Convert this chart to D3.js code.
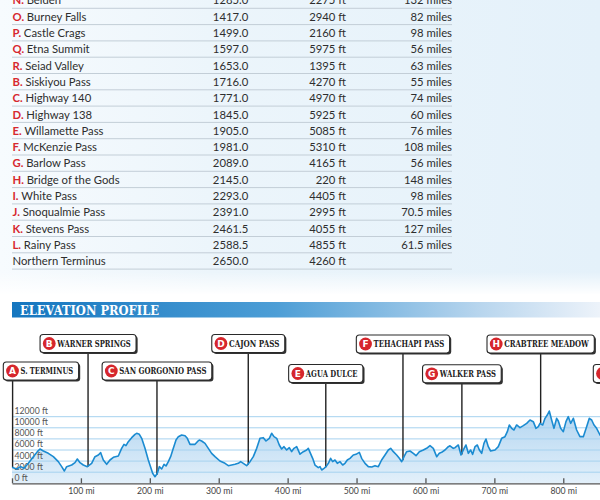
<!DOCTYPE html>
<html><head><meta charset="utf-8">
<script src="https://cdn.jsdelivr.net/npm/d3@7/dist/d3.min.js"></script>
<style>html,body{margin:0;padding:0;background:#fff;} svg{display:block;}</style>
</head><body>
<svg id="chart" width="600" height="500"></svg>
<script>
// ---------- DATA ----------
const tableLetters = ["N","O","P","Q","R","B","C","D","E","F","G","H","I","J","K","L",""];
const tableNames = ["Belden","Burney Falls","Castle Crags","Etna Summit","Seiad Valley","Siskiyou Pass","Highway 140","Highway 138","Willamette Pass","McKenzie Pass","Barlow Pass","Bridge of the Gods","White Pass","Snoqualmie Pass","Stevens Pass","Rainy Pass","Northern Terminus"];
const tableMileage = [1285.0,1417.0,1499.0,1597.0,1653.0,1716.0,1771.0,1845.0,1905.0,1981.0,2089.0,2145.0,2293.0,2391.0,2461.5,2588.5,2650.0];
const tableElevation = [2275,2940,2160,5975,1395,4270,4970,5925,5085,5310,4165,220,4405,2995,4055,4855,4260];
const tableDistance = ["132","82","98","56","63","55","74","60","76","108","56","148","98","70.5","127","61.5",""];

const profileMiles = [0,6.8,12.6,17.4,23.7,31,36.8,40.6,45.5,52.7,60,67.2,72.1,76,79.3,86.6,91.4,94.8,98.7,103.5,109.3,115.6,120.4,125.3,128.7,132.5,137.4,142.2,147.1,154.3,159.1,162.5,165.4,168.8,173.7,178.5,180.9,184.8,188.2,193,197.8,200.3,204.1,207.5,210.9,213.8,217.2,220.6,223.5,226.9,230.2,234.1,238,241.4,246.2,251.1,254.4,258.3,265.6,269,271.8,275.2,280.1,284.9,289.7,294.6,301.8,309.1,313.9,318.8,323.6,328.4,331.8,335.7,340.5,345.4,350.2,355.1,359.9,364.7,368.6,373.4,376.8,380.2,384.1,387.9,391.3,394.7,398.6,402.4,405.8,409.2,413.1,417.9,422.8,427.6,430,432.5,436.3,439.7,444.5,447,449.4,452.8,455.7,459.1,462.4,465.3,468.7,472.1,476,479.9,483.2,486.6,490.5,495.3,499.2,504,507.4,512.3,517.1,522,526.8,531.6,536.4,541.3,546.1,549.5,553.4,558.2,562.1,565.5,568.9,572.7,577.6,582.4,586.3,591.1,596.9,601.7,606.6,611.4,616.3,620.1,623.5,628.3,633.2,635.6,640.4,642.9,647.7,651.6,655,658.8,662.2,665.6,668.5,671.9,675.3,678.2,681.6,684.9,687.8,691.2,694.6,700.9,705.7,710.6,715.4,718.8,721.7,725.1,728.5,732.3,737.2,742,746.9,751.7,756.5,760.4,763.8,766.2,770.1,773.5,776.8,779.7,783.1,786.5,790.4,792.8,796.2,800.1,803.9,807.3,810.7,814.6,819.4,824.2,829.1,833.9,837.8,841.2,844.6,848.4,853.3,858];
const profileElev = [2900,2577,3000,2697,3598,4799,5700,6181,5820,5400,4799,3898,3000,2216,3000,3297,3718,4379,3718,3297,3000,3598,4799,5100,5520,4198,3417,4198,4679,4919,6301,7022,6781,7502,8223,8824,9004,8824,8103,6301,4198,3250,1796,1195,1796,3000,2577,3418,3117,3898,4799,6301,7803,8403,8704,8583,8103,7022,7022,7502,7803,7622,7202,6301,5400,4799,4018,3598,3177,3297,3418,3598,3898,3598,3177,3898,4799,6301,8103,8223,7622,8103,9004,8403,8103,6902,6181,6601,6001,6421,5700,6301,6601,5250,5700,6001,6301,5580,4499,3297,2817,3000,2396,2697,3000,3598,4499,3898,4198,3598,3898,3297,3598,4198,4499,5100,5220,5580,4499,3598,3000,2937,3177,3000,4198,5100,6001,6301,5700,5100,4499,3898,4799,5700,5820,5400,4979,5700,6001,6301,6781,6301,4799,5400,5580,6001,6601,6750,6301,6421,6902,5100,6001,6902,5400,6001,5220,6601,6902,6001,5400,7202,7983,6601,5820,6001,6601,8103,8403,9304,10506,9905,9604,10506,10025,10385,10806,11407,11106,9905,10206,10806,10506,11707,12308,13028,11407,9905,11707,11227,9905,9304,11106,12007,10806,11707,9605,8403,8403,10206,11707,11407,10506,9905,8704,8300];

const yTicks = [0,2000,4000,6000,8000,10000,12000];
const xTicks = [0,100,200,300,400,500,600,700,800];

const labelLetters = ["A","B","C","D","E","F","G","H","I"];
const labelNames = ["S. TERMINUS","WARNER SPRINGS","SAN GORGONIO PASS","CAJON PASS","AGUA DULCE","TEHACHAPI PASS","WALKER PASS","CRABTREE MEADOW",""];
const labelMiles = [0,109.5,209.5,342,454.5,566.5,652,766.3,918];

// ---------- LAYOUT (style only) ----------
const labelTop = [362,334.5,362,334.5,364.5,335,364.8,335,364.5];
const labelTextW = [53.3,74,87.7,51,52.3,71.3,56.7,85.3,80];

const svg = d3.select("#chart");
const defs = svg.append("defs");

const bg = defs.append("linearGradient").attr("id","bgH").attr("x1",0).attr("x2",1).attr("y1",0).attr("y2",0);
bg.append("stop").attr("offset",0).attr("stop-color","#f7fbfe");
bg.append("stop").attr("offset",0.35).attr("stop-color","#ecf5fb");
bg.append("stop").attr("offset",1).attr("stop-color","#e4f1fa");
const fade = defs.append("linearGradient").attr("id","fadeV").attr("x1",0).attr("x2",0).attr("y1",0).attr("y2",1);
fade.append("stop").attr("offset",0).attr("stop-color","#fff").attr("stop-opacity",0);
fade.append("stop").attr("offset",1).attr("stop-color","#fff").attr("stop-opacity",1);
const ban = defs.append("linearGradient").attr("id","ban").attr("x1",0).attr("x2",1).attr("y1",0).attr("y2",0);
ban.append("stop").attr("offset",0).attr("stop-color","#1576bf");
ban.append("stop").attr("offset",0.45).attr("stop-color","#4d9ed6");
ban.append("stop").attr("offset",0.8).attr("stop-color","#b9d6ee");
ban.append("stop").attr("offset",1).attr("stop-color","#edf3fa");
const areaG = defs.append("linearGradient").attr("id","areaG").attr("gradientUnits","userSpaceOnUse").attr("x1",0).attr("x2",0).attr("y1",405).attr("y2",484);
areaG.append("stop").attr("offset",0).attr("stop-color","#aed3f0");
areaG.append("stop").attr("offset",1).attr("stop-color","#e3f0fa");

svg.append("rect").attr("x",0).attr("y",0).attr("width",600).attr("height",294).attr("fill","url(#bgH)");
svg.append("rect").attr("x",0).attr("y",272).attr("width",600).attr("height",23).attr("fill","url(#fadeV)");

// ---------- TABLE ----------
const rowY = d3.scaleLinear().domain([0,1]).range([4.4,20.7]);
const sans = "Lato, 'Open Sans', sans-serif";
const fs = 11.3, txt = "#2e2e2e";
const rows = svg.append("g").selectAll("g").data(tableNames).join("g");
rows.append("line").attr("x1",12).attr("x2",452)
  .attr("y1",(d,i)=>rowY(i)+3.9).attr("y2",(d,i)=>rowY(i)+3.9)
  .attr("stroke","#c3ced7").attr("stroke-width",1);
const nameT = rows.append("text").attr("x",12.5).attr("y",(d,i)=>rowY(i))
  .attr("font-family",sans).attr("font-size",fs).attr("fill",txt);
nameT.append("tspan").attr("fill","#d7282f").attr("font-weight","bold")
  .text((d,i)=>tableLetters[i] ? tableLetters[i]+". " : "");
nameT.append("tspan").text(d=>d);
rows.append("text").attr("x",248.3).attr("y",(d,i)=>rowY(i)).attr("text-anchor","end")
  .attr("font-family",sans).attr("font-size",fs).attr("fill",txt)
  .text((d,i)=>tableMileage[i].toFixed(1));
rows.append("text").attr("x",346).attr("y",(d,i)=>rowY(i)).attr("text-anchor","end")
  .attr("font-family",sans).attr("font-size",fs).attr("fill",txt)
  .text((d,i)=>tableElevation[i]+" ft");
rows.append("text").attr("x",452).attr("y",(d,i)=>rowY(i)).attr("text-anchor","end")
  .attr("font-family",sans).attr("font-size",fs).attr("fill",txt)
  .text((d,i)=>tableDistance[i] ? tableDistance[i]+" miles" : "");

// ---------- BANNER ----------
svg.append("rect").attr("x",12).attr("y",302).attr("width",588).attr("height",15.5).attr("fill","url(#ban)");
svg.append("text").attr("x",20).attr("y",315.3).attr("fill","#fff")
  .attr("font-family","'DejaVu Serif', serif").attr("font-weight","bold").attr("font-size",13.5)
  .attr("textLength",139).attr("lengthAdjust","spacingAndGlyphs").text("ELEVATION PROFILE");

// ---------- PROFILE ----------
const x = d3.scaleLinear().domain([0,853.3]).range([12,600]);
const y = d3.scaleLinear().domain([0,12000]).range([483.3,416.7]);
const pts = profileMiles.map((m,i)=>[m,profileElev[i]]);

svg.append("path").datum(pts)
  .attr("d", d3.area().x(d=>x(d[0])).y0(y(0)).y1(d=>y(d[1])))
  .attr("fill","url(#areaG)");

const grid = svg.append("g");
grid.selectAll("line").data(yTicks.filter(v=>v>0)).join("line")
  .attr("x1",12).attr("x2",600).attr("y1",d=>y(d)).attr("y2",d=>y(d))
  .attr("stroke","#a6d2ef").attr("stroke-width",1);
grid.selectAll("text").data(yTicks).join("text")
  .attr("x",14.5).attr("y",d=>y(d)-2.6)
  .attr("font-family",sans).attr("font-size",8.7).attr("fill","#555")
  .text(d=>d+" ft");

const bis = d3.bisector(d=>d[0]).left;
function elevAt(m){
  const i = bis(pts, m);
  if (i<=0) return pts[0][1];
  if (i>=pts.length) return pts[pts.length-1][1];
  const a = pts[i-1], b = pts[i];
  return a[1] + (b[1]-a[1])*(m-a[0])/(b[0]-a[0]);
}
const callG = svg.append("g");
labelMiles.forEach((m,i)=>{
  callG.append("line").attr("x1",x(m)+0.6).attr("x2",x(m)+0.6)
    .attr("y1",labelTop[i]+18).attr("y2",y(elevAt(m)))
    .attr("stroke","#222").attr("stroke-width",1.4);
});

svg.append("path").datum(pts)
  .attr("d", d3.line().x(d=>x(d[0])).y(d=>y(d[1])))
  .attr("fill","none").attr("stroke","#1b8bd1").attr("stroke-width",1.6)
  .attr("stroke-linejoin","round");

const xAxis = svg.append("g").attr("transform","translate(0,483.3)")
  .call(d3.axisBottom(x).tickValues(xTicks).tickSizeInner(-5).tickSizeOuter(0).tickPadding(5)
    .tickFormat(d=>d ? d+" mi" : ""));
xAxis.select(".domain").attr("stroke","#555").attr("stroke-width",1.3);
xAxis.selectAll(".tick line").attr("stroke","#555").attr("stroke-width",1.3);
xAxis.selectAll(".tick text").attr("font-family",sans).attr("font-size",8.7).attr("fill","#444");

labelMiles.forEach((m,i)=>{
  const w = labelTextW[i] + 22;
  let left = x(m) + 0.6 - w/2;
  if (left < 3.3) left = 3.3;
  if (i === labelMiles.length-1) left = 593.3;
  const top = labelTop[i];
  const g = callG.append("g");
  g.append("rect").attr("x",left+1.6).attr("y",top+1.6).attr("width",w).attr("height",18)
    .attr("rx",3).attr("fill","#333");
  g.append("rect").attr("x",left).attr("y",top).attr("width",w).attr("height",18)
    .attr("rx",3).attr("fill","#fff").attr("stroke","#2a2a2a").attr("stroke-width",1.1);
  g.append("circle").attr("cx",left+9.2).attr("cy",top+9).attr("r",6.4).attr("fill","#d6262c");
  g.append("text").attr("x",left+9.2).attr("y",top+12.3).attr("text-anchor","middle")
    .attr("font-family","'DejaVu Sans', sans-serif").attr("font-weight","bold").attr("font-size",9)
    .attr("fill","#fff").text(labelLetters[i]);
  if (labelNames[i]) {
    g.append("text").attr("x",left+17.2).attr("y",top+12.2)
      .attr("font-family","'DejaVu Serif', serif").attr("font-weight","bold").attr("font-size",8.5)
      .attr("fill","#222").attr("textLength",labelTextW[i]-0.6).attr("lengthAdjust","spacingAndGlyphs")
      .text(labelNames[i]);
  }
});
</script>
</body></html>
